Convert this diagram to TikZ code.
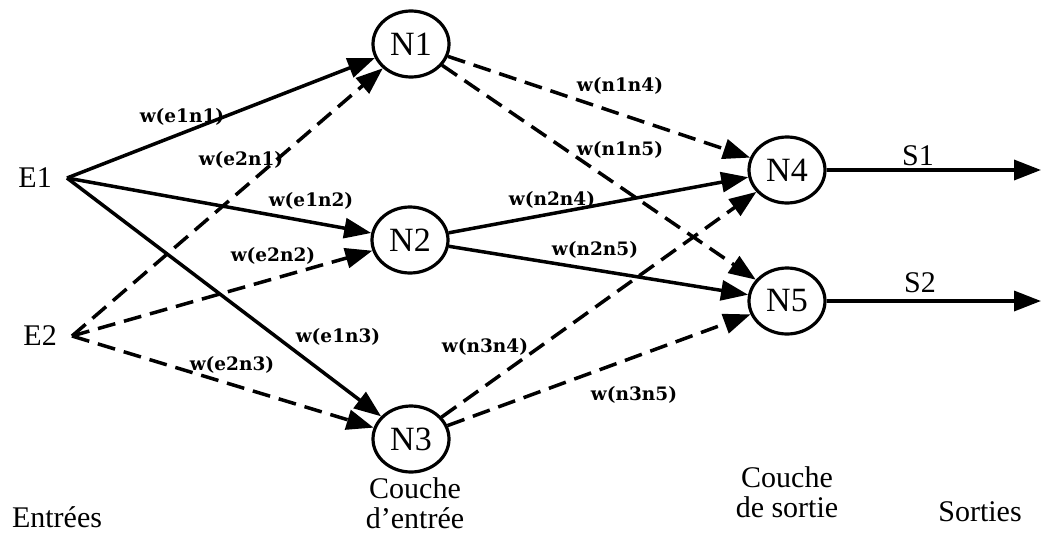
\documentclass[tikz,border=0pt]{standalone}
\usepackage{fontspec}
\setmainfont{Liberation Serif}
\newfontfamily\wfont{DejaVu Serif}
\usetikzlibrary{arrows.meta,shapes.geometric}

\tikzset{
  neurone/.style={ellipse, draw, line width=3.2pt, minimum width=76pt, minimum height=66pt, inner sep=0pt, font=\fontsize{34}{34}\selectfont},
  txt/.style={inner sep=0pt, font=\fontsize{30}{30}\selectfont, align=center},
  poids/.style={inner sep=0pt, font=\wfont\bfseries\fontsize{18.5}{18.5}\selectfont},
  lien/.style={line width=3.5pt, -{Triangle[length=27pt,width=20pt]}},
  lienpt/.style={lien, dash pattern=on 18pt off 9pt}
}

\begin{document}
\begin{tikzpicture}[x=1pt,y=-1pt]
	%%%%% START %%%%%
	\useasboundingbox (0,0) rectangle (1041,533);
	
	% entrees
	\node[txt, anchor=east, inner xsep=15pt] (E1) at (67,178) {E1};
	\node[txt, anchor=east, inner xsep=15pt] (E2) at (72,336) {E2};
	
	% couche d'entree
	\node[neurone] (N1) at (411,44) {N1};
	\node[neurone] (N2) at (410,240) {N2};
	\node[neurone] (N3) at (411,439) {N3};
	
	% couche de sortie
	\node[neurone] (N4) at (787,170) {N4};
	\node[neurone] (N5) at (787,301) {N5};
	
	\coordinate (s1) at (1041,170);
	\coordinate (s2) at (1041,301);
	
	\draw[lien] (E1.east) -- (N1);
	\draw[lien] (E1.east) -- (N2);
	\draw[lien] (E1.east) -- (N3);
	\draw[lienpt] (E2.east) -- (N1);
	\draw[lienpt] (E2.east) -- (N2);
	\draw[lienpt] (E2.east) -- (N3);
	
	\draw[lienpt] (N1) -- (N4);
	\draw[lienpt] (N1) -- (N5);
	\draw[lien] (N2) -- (N4);
	\draw[lien] (N2) -- (N5);
	\draw[lienpt] (N3) -- (N4);
	\draw[lienpt] (N3) -- (N5);
	
	\draw[lien] (N4) -- (s1);
	\draw[lien] (N5) -- (s2);
	
	% poids
	\node[poids] (we1n1) at (182,117) {w(e1n1)};
	\node[poids] (we2n1) at (241,160) {w(e2n1)};
	\node[poids] (we1n2) at (311,201) {w(e1n2)};
	\node[poids] (we2n2) at (273,256) {w(e2n2)};
	\node[poids] (we1n3) at (338,337) {w(e1n3)};
	\node[poids] (we2n3) at (232,365) {w(e2n3)};
	\node[poids] (wn1n4) at (620,86) {w(n1n4)};
	\node[poids] (wn1n5) at (620,150) {w(n1n5)};
	\node[poids] (wn2n4) at (552,200) {w(n2n4)};
	\node[poids] (wn2n5) at (595,250) {w(n2n5)};
	\node[poids] (wn3n4) at (485,347) {w(n3n4)};
	\node[poids] (wn3n5) at (634,395) {w(n3n5)};
	
	\node[txt] (S1) at (918,156) {S1};
	\node[txt] (S2) at (920,283) {S2};
	
	% legendes
	\node[txt] (entrees) at (57,517) {Entrées};
	\node[txt] (couche1) at (415,503) {Couche\\d'entrée};
	\node[txt] (couche2) at (787,492) {Couche\\de sortie};
	\node[txt] (sorties) at (980,512) {Sorties};
	%%%%% END %%%%%
\end{tikzpicture}
\end{document}
